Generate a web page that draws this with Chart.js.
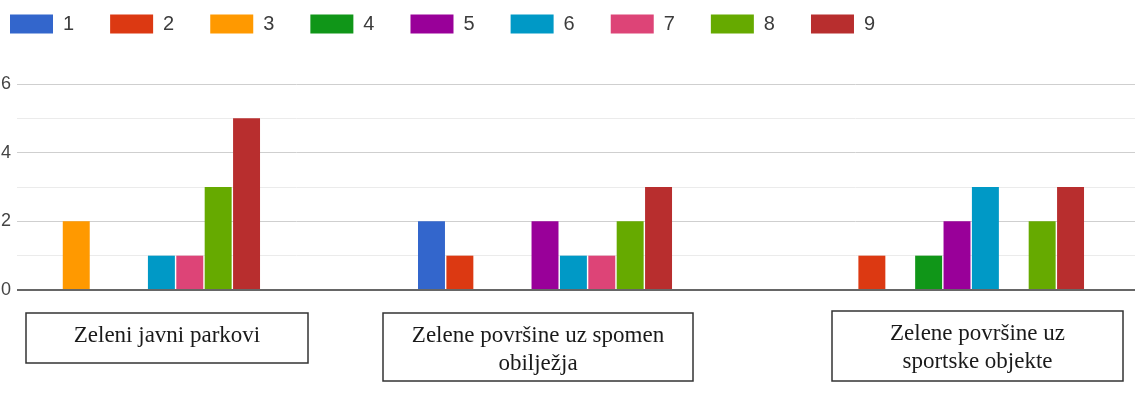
<!DOCTYPE html>
<html>
<head>
<meta charset="utf-8">
<script src="https://cdn.jsdelivr.net/npm/chart.js@4.4.1/dist/chart.umd.min.js"></script>
<style>
  html, body { margin: 0; padding: 0; background: #fff; }
  #wrap { position: relative; width: 1137px; height: 394px; }
</style>
</head>
<body>
<div id="wrap"><canvas id="grafico"></canvas></div>
<script>
// kategorije zelenih površina (tekst u okvirima ispod grafa)
const kategorije = [
  ['Zeleni javni parkovi'],
  ['Zelene površine uz spomen', 'obilježja'],
  ['Zelene površine uz', 'sportske objekte'],
];
const ocjene = ['1', '2', '3', '4', '5', '6', '7', '8', '9'];
const boje = ['#3366cc', '#dc3912', '#ff9900', '#109618', '#990099', '#0099c6', '#dd4477', '#66aa00', '#b82e2e'];

// broj odgovora za svaku ocjenu, redom po kategorijama
const ocjena1 = [0, 2, 0];
const ocjena2 = [0, 1, 1];
const ocjena3 = [2, 0, 0];
const ocjena4 = [0, 0, 1];
const ocjena5 = [0, 2, 2];
const ocjena6 = [1, 1, 3];
const ocjena7 = [1, 1, 0];
const ocjena8 = [3, 2, 2];
const ocjena9 = [5, 3, 3];
const odgovori = [ocjena1, ocjena2, ocjena3, ocjena4, ocjena5, ocjena6, ocjena7, ocjena8, ocjena9];

const yOznake = [0, 2, 4, 6];

// okviri s nazivima kategorija
const okviri = [
  { x: 26, y: 313, w: 282, h: 50 },
  { x: 383, y: 313, w: 310, h: 68 },
  { x: 832, y: 311, w: 291, h: 70 },
];

// dodatni razmak ispod legende
const razmakLegende = {
  id: 'razmakLegende',
  beforeInit(chart) {
    if (!chart.legend) return;
    const fit = chart.legend.fit;
    chart.legend.fit = function () {
      fit.bind(chart.legend)();
      this.height += 40;
    };
  },
};

const nazivi = {
  id: 'nazivi',
  afterDraw(chart) {
    const ctx = chart.ctx;
    ctx.save();
    okviri.forEach((o, i) => {
      ctx.fillStyle = '#fff';
      ctx.fillRect(o.x, o.y, o.w, o.h);
      ctx.strokeStyle = '#333';
      ctx.lineWidth = 1.5;
      ctx.strokeRect(o.x, o.y, o.w, o.h);
      ctx.fillStyle = '#1a1a1a';
      ctx.font = '23px "Liberation Serif", "Times New Roman", serif';
      ctx.textAlign = 'center';
      ctx.textBaseline = 'alphabetic';
      kategorije[i].forEach((tekst, r) => {
        ctx.fillText(tekst, o.x + o.w / 2, o.y + 29 + r * 28);
      });
    });
    ctx.restore();
  },
};

const datasets = ocjene.map((o, i) => ({
  label: o,
  data: odgovori[i].map((v, k) => ({ x: k, y: v })),
  backgroundColor: boje[i],
  borderWidth: 0,
  categoryPercentage: 0.62,
  barPercentage: 0.95,
}));

new Chart(document.getElementById('grafico'), {
  type: 'bar',
  data: { datasets },
  plugins: [razmakLegende, nazivi],
  options: {
    responsive: true,
    maintainAspectRatio: false,
    animation: false,
    layout: { padding: { top: -22, left: -26, right: 2, bottom: 104 } },
    plugins: {
      tooltip: { enabled: false },
      legend: {
        position: 'top',
        align: 'start',
        labels: {
          boxWidth: 43,
          boxHeight: 19,
          padding: 36,
          color: '#3c3c3c',
          font: { family: '"Liberation Sans", Arial, sans-serif', size: 20 },
        },
      },
    },
    scales: {
      x: {
        type: 'linear',
        display: false,
        offset: false,
        bounds: 'data',
        min: -0.2816,
        max: 2.432,
        // jedan tick po kategoriji, da širina grupe stupaca bude razmak kategorija
        afterBuildTicks(scale) {
          scale.ticks = kategorije.map((_, k) => ({ value: k }));
        },
        grid: { display: false, offset: false },
      },
      y: {
        min: 0,
        max: 6,
        border: { display: false },
        afterFit(scale) { scale.width = 43; },
        ticks: {
          stepSize: 1,
          padding: 6,
          color: '#444',
          font: { family: '"Liberation Sans", Arial, sans-serif', size: 18 },
          callback: (v) => (yOznake.includes(v) ? String(v) : ''),
        },
        grid: {
          drawTicks: false,
          color: (c) => (c.tick.value === 0 ? '#666' : c.tick.value % 2 === 0 ? '#cfcfcf' : '#ebebeb'),
          lineWidth: (c) => (c.tick.value === 0 ? 2 : 1),
        },
      },
    },
  },
});
</script>
</body>
</html>
